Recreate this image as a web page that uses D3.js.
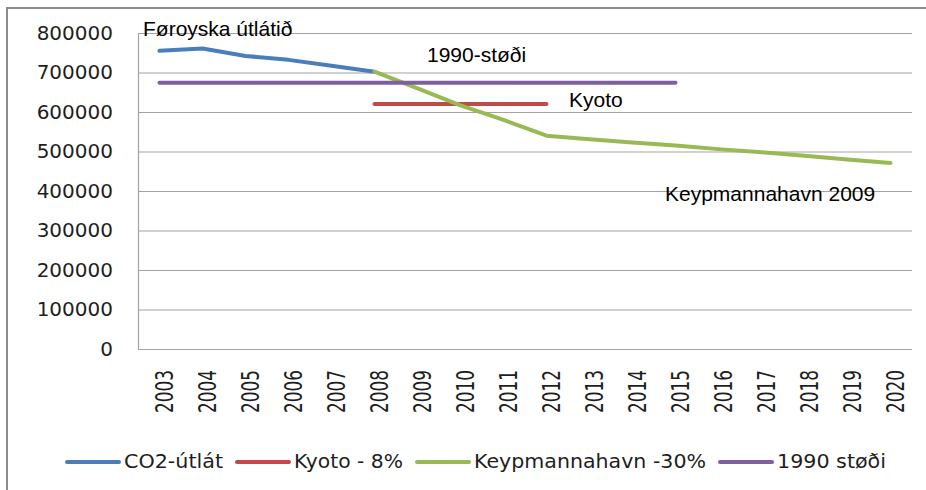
<!DOCTYPE html>
<html>
<head>
<meta charset="utf-8">
<script src="https://cdn.jsdelivr.net/npm/d3@7"></script>
<style>
	body { margin: 0; background: #fff; }
</style>
</head>
<body>
<div class="canvas"></div>
<script>
// data
const years = ['2003', '2004', '2005', '2006', '2007', '2008', '2009', '2010', '2011',
	'2012', '2013', '2014', '2015', '2016', '2017', '2018', '2019', '2020'];
const co2 = [755000, 761000, 742000, 732000, 717000, 702000,
	null, null, null, null, null, null, null, null, null, null, null, null];
const kyoto = [null, null, null, null, null, 620000, 620000, 620000, 620000, 620000,
	null, null, null, null, null, null, null, null];
const keypmannahavn = [null, null, null, null, null, 702000, 660000, 617000, 580000,
	540000, 531000, 523000, 515000, 506000, 498000, 489000, 480000, 471000];
const stodi1990 = [674000, 674000, 674000, 674000, 674000, 674000, 674000, 674000,
	674000, 674000, 674000, 674000, 674000, null, null, null, null, null];
const yTicks = [0, 100000, 200000, 300000, 400000, 500000, 600000, 700000, 800000];
const seriesNames = ['CO2-útlát', 'Kyoto - 8%', 'Keypmannahavn -30%', '1990 støði'];

const series = [
	{ name: seriesNames[0], values: co2, color: '#4a7ebb' },
	{ name: seriesNames[1], values: kyoto, color: '#be4b48' },
	{ name: seriesNames[2], values: keypmannahavn, color: '#98b954' },
	{ name: seriesNames[3], values: stodi1990, color: '#7d60a0' }
];

const svg = d3.select('.canvas')
	.append('svg')
	.attr('width', 926)
	.attr('height', 490);

// outer frame (only top and left visible)
svg.append('rect')
	.attr('x', 7)
	.attr('y', 8)
	.attr('width', 1000)
	.attr('height', 1000)
	.attr('fill', 'none')
	.attr('stroke', '#8c8c8c')
	.attr('stroke-width', 2);

// plot area
const plot = { left: 138, right: 912, top: 33, bottom: 349 };

const x = d3.scaleBand()
	.domain(years)
	.range([plot.left, plot.right]);

const y = d3.scaleLinear()
	.domain([0, 800000])
	.range([plot.bottom, plot.top]);

const cx = d => x(d) + x.bandwidth() / 2;

// y axis with gridlines
const yAxis = d3.axisLeft(y)
	.tickValues(yTicks)
	.tickSize(-(plot.right - plot.left))
	.tickSizeOuter(0)
	.tickPadding(25)
	.tickFormat(d => d);

const yAxisGroup = svg.append('g')
	.attr('transform', `translate(${plot.left},0)`)
	.call(yAxis);

yAxisGroup.selectAll('line')
	.attr('stroke', '#a3a3a3')
	.attr('stroke-width', 1.2);
yAxisGroup.select('.domain')
	.attr('stroke', '#a3a3a3')
	.attr('stroke-width', 1.2);
yAxisGroup.selectAll('text')
	.attr('fill', '#1e1e1e')
	.attr('font-family', 'DejaVu Sans')
	.attr('font-size', '20px');

// x axis, labels turned upright
const xAxis = d3.axisBottom(x)
	.tickSize(0)
	.tickPadding(0);

const xAxisGroup = svg.append('g')
	.attr('transform', `translate(0,${plot.bottom})`)
	.call(xAxis);

xAxisGroup.select('.domain').remove();
xAxisGroup.selectAll('text')
	.attr('transform', 'rotate(-90)')
	.attr('text-anchor', 'end')
	.attr('x', -21)
	.attr('y', 13)
	.attr('dy', 0)
	.attr('fill', '#1e1e1e')
	.attr('font-family', 'DejaVu Sans')
	.attr('font-size', '24px')
	.attr('textLength', 43)
	.attr('lengthAdjust', 'spacingAndGlyphs');

// lines
const line = d3.line()
	.defined(d => d.v !== null)
	.x(d => cx(d.year))
	.y(d => y(d.v));

svg.append('g')
	.selectAll('path')
	.data(series)
	.enter()
	.append('path')
	.attr('d', s => line(s.values.map((v, i) => ({ year: years[i], v: v }))))
	.attr('fill', 'none')
	.attr('stroke', s => s.color)
	.attr('stroke-width', 4)
	.attr('stroke-linecap', 'round')
	.attr('stroke-linejoin', 'round');

// annotations
const notes = svg.append('g')
	.attr('font-family', 'Liberation Sans, Arial, sans-serif')
	.attr('font-size', '21px')
	.attr('fill', '#000');

notes.append('text').attr('x', 143).attr('y', 36).text('Føroyska útlátið');
notes.append('text').attr('x', 427).attr('y', 62).text('1990-støði');
notes.append('text').attr('x', 569).attr('y', 107).text('Kyoto');
notes.append('text').attr('x', 665).attr('y', 201).text('Keypmannahavn 2009');

// legend
const legendTextWidths = [99, 109, 232, 109];
const legend = svg.append('g');
let lx = 67;
series.forEach((s, i) => {
	legend.append('line')
		.attr('x1', lx)
		.attr('x2', lx + 52)
		.attr('y1', 462)
		.attr('y2', 462)
		.attr('stroke', s.color)
		.attr('stroke-width', 4)
		.attr('stroke-linecap', 'round');
	legend.append('text')
		.attr('x', lx + 57)
		.attr('y', 468)
		.attr('fill', '#1e1e1e')
		.attr('font-family', 'DejaVu Sans')
		.attr('font-size', '19px')
		.attr('textLength', legendTextWidths[i])
		.attr('lengthAdjust', 'spacingAndGlyphs')
		.text(s.name);
	lx += 57 + legendTextWidths[i] + 14;
});
</script>
</body>
</html>
